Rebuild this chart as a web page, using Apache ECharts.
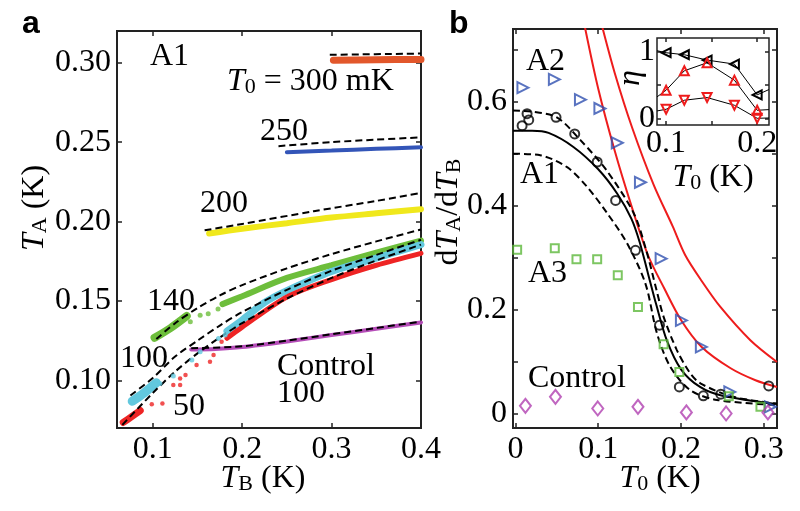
<!DOCTYPE html>
<html>
<head>
<meta charset="utf-8">
<script src="https://cdn.jsdelivr.net/npm/echarts@6/dist/echarts.min.js"></script>
<style>
html,body{margin:0;padding:0;background:#fff;}
#chart{width:800px;height:511px;}
</style>
</head>
<body>
<div id="chart"></div>
<script>
// ---- panel a : T_A against T_B, one band of points per T0 ----
var t300Band = [[0.302,0.3016],[0.35,0.3019],[0.4,0.3021]];
var t300Fit  = [[0.298,0.3050],[0.4,0.3058]];
var t250Band = [[0.25,0.2437],[0.3,0.2447],[0.35,0.2458],[0.4,0.2468]];
var t250Fit  = [[0.2406,0.2475],[0.3,0.2500],[0.35,0.2516],[0.4,0.2530]];
var t200Band = [[0.163,0.1925],[0.2,0.1955],[0.25,0.1990],[0.3,0.2025],[0.35,0.2052],[0.4,0.2078]];
var t200Fit  = [[0.158,0.1945],[0.2,0.1985],[0.28,0.2065],[0.35,0.2130],[0.4,0.2180]];
var t140Clump = [[0.102,0.1268],[0.12,0.1330],[0.138,0.1405]];
var t140Dots  = [[0.142,0.1369],[0.153,0.1410],[0.162,0.1420],[0.173,0.1450]];
var t140Band  = [[0.178,0.1480],[0.2,0.1530],[0.25,0.1645],[0.3,0.1725],[0.35,0.1805],[0.4,0.1880]];
var t140Fit   = [[0.104,0.1260],[0.125,0.1360],[0.15,0.1455],[0.175,0.1535],[0.2,0.1600],[0.25,0.1705],[0.3,0.1795],[0.35,0.1875],[0.4,0.1950]];
var t100Clump = [[0.077,0.0868],[0.09,0.0920],[0.104,0.0985]];
var t100Dots  = [[0.108,0.0981],[0.123,0.1027],[0.1437,0.1128],[0.153,0.1180],[0.1735,0.1264],[0.181,0.1285]];
var t100Band  = [[0.183,0.1310],[0.2,0.1380],[0.225,0.1490],[0.25,0.1565],[0.3,0.1685],[0.35,0.1770],[0.4,0.1855]];
var t100Fit   = [[0.075,0.0905],[0.1,0.1015],[0.125,0.1150],[0.15,0.1250],[0.175,0.1345],[0.2,0.1430],[0.25,0.1570],[0.3,0.1690],[0.35,0.1790],[0.4,0.1885]];
var t50Clump  = [[0.067,0.0735],[0.076,0.0770],[0.086,0.0810]];
var t50Dots   = [[0.0989,0.0850],[0.1108,0.0855],[0.123,0.0970],[0.1306,0.0970],[0.1306,0.1012],[0.1366,0.1033],[0.149,0.1096],[0.164,0.1117],[0.168,0.1160],[0.177,0.1243]];
var t50Band   = [[0.183,0.1265],[0.2,0.1335],[0.25,0.1525],[0.3,0.1635],[0.35,0.1725],[0.4,0.1800]];
var t50Fit    = [[0.066,0.0720],[0.1,0.0920],[0.125,0.1055],[0.15,0.1170],[0.175,0.1270],[0.2,0.1360],[0.25,0.1515],[0.3,0.1645],[0.35,0.1755],[0.4,0.1855]];
var ctrlBand  = [[0.143,0.1195],[0.17,0.1198],[0.2,0.1210],[0.25,0.1245],[0.3,0.1285],[0.35,0.1325],[0.4,0.1365]];
var ctrlFit   = [[0.143,0.1202],[0.2,0.1215],[0.25,0.1250],[0.3,0.1290],[0.35,0.1330],[0.4,0.1370]];
var aXTicks = [0.1,0.2,0.3,0.4];
var aYTicks = [0.10,0.15,0.20,0.25,0.30];

// ---- panel b : dT_A/dT_B against T0 ----
var a2Pts   = [[0.009,0.627],[0.047,0.643],[0.0785,0.604],[0.102,0.587],[0.123,0.521],[0.151,0.445],[0.176,0.298],[0.2005,0.179],[0.2246,0.128],[0.259,0.0415],[0.308,0.0127]];
var a1Pts   = [[0.008,0.554],[0.014,0.577],[0.016,0.565],[0.049,0.570],[0.0716,0.538],[0.0987,0.484],[0.121,0.410],[0.145,0.314],[0.174,0.170],[0.198,0.051],[0.227,0.034],[0.248,0.037],[0.306,0.053]];
var a3Pts   = [[0.002,0.315],[0.0475,0.318],[0.0737,0.297],[0.0987,0.297],[0.1236,0.266],[0.148,0.205],[0.179,0.133],[0.198,0.080],[0.2577,0.033],[0.296,0.013]];
var ctrlPts = [[0.012,0.0146],[0.0483,0.032],[0.0994,0.0096],[0.148,0.0127],[0.2065,0.002],[0.2545,0.0],[0.305,0.002]];
var a1Fit   = [[-0.003,0.544],[0.02,0.544],[0.04,0.540],[0.07,0.513],[0.1,0.470],[0.123,0.423],[0.14,0.375],[0.15,0.330],[0.16,0.270],[0.17,0.210],[0.183,0.140],[0.2,0.085],[0.223,0.051],[0.25,0.034],[0.316,0.018]];
var a1FitHi = [[-0.003,0.583],[0.02,0.581],[0.05,0.570],[0.0785,0.526],[0.11,0.468],[0.143,0.385],[0.158,0.314],[0.17,0.240],[0.179,0.186],[0.195,0.122],[0.21,0.080],[0.2234,0.058],[0.263,0.032],[0.316,0.019]];
var a1FitLo = [[-0.003,0.500],[0.03,0.497],[0.0624,0.474],[0.0866,0.436],[0.111,0.385],[0.135,0.327],[0.157,0.250],[0.171,0.154],[0.187,0.090],[0.211,0.045],[0.2436,0.026],[0.316,0.016]];
var redLeft  = [[0.0837,0.745],[0.1,0.625],[0.12,0.505],[0.14,0.400],[0.16,0.305],[0.18,0.240],[0.2,0.180],[0.225,0.128],[0.26,0.087],[0.29,0.064],[0.316,0.051]];
var redRight = [[0.1047,0.745],[0.12,0.655],[0.141,0.550],[0.167,0.440],[0.19,0.360],[0.205,0.305],[0.225,0.255],[0.2476,0.205],[0.2838,0.141],[0.316,0.099]];
var bXTicks = [0,0.1,0.2,0.3];
var bYTicks = [0,0.1,0.2,0.3,0.4,0.5,0.6,0.7];
var bYLabels = [0,0.2,0.4,0.6];

// ---- inset : eta against T0 ----
var etaT0    = [0.1,0.12,0.145,0.175,0.2];
var etaBlack = [0.98,0.95,0.87,0.81,0.35];
var etaUp    = [0.42,0.71,0.83,0.57,0.12];
var etaDown  = [0.135,0.27,0.31,0.195,0.0];
// where each line leaves the inset frame (left, right)
var edgeBlack = [1.01,0.43];
var edgeUp    = [0.32,0.13];
var edgeDown  = [0.11,0.005];
var inXMin = 0.09, inXMax = 0.213;
var inXTicks = [0.1,0.15,0.2];
var inYTicks = [0,0.5,1];

var SERIF = 'Liberation Serif';
var FS = 32;

function axis(gi, min, max, ticks, labels, fmt, pos, margin) {
  return {
    type: 'value', gridIndex: gi, min: min, max: max, position: pos,
    axisLine: {show: false, onZero: false},
    splitLine: {show: false},
    axisTick: {show: true, inside: true, length: gi === 2 ? 4 : 5, customValues: ticks,
               lineStyle: {color: '#222', width: 1.5}},
    axisLabel: {show: !!labels, customValues: labels || [], formatter: fmt,
                fontFamily: SERIF, fontSize: FS, color: '#000', margin: margin || 6}
  };
}
function band(xi, data, color, w) {
  return {type: 'line', xAxisIndex: xi, yAxisIndex: xi, data: data, symbol: 'none',
          smooth: 0.3, lineStyle: {color: color, width: w, cap: 'round'}, z: 2, silent: true};
}
function fit(xi, data, dashed, color, w) {
  return {type: 'line', xAxisIndex: xi, yAxisIndex: xi, data: data, symbol: 'none',
          smooth: 0.3, clip: true,
          lineStyle: {color: color || '#000', width: w || 2, type: dashed ? [7, 4] : 'solid'},
          z: 4, silent: true};
}
function dots(xi, data, color, size, symbol, rot, hollow) {
  return {type: 'scatter', xAxisIndex: xi, yAxisIndex: xi, data: data,
          symbol: symbol || 'circle', symbolSize: size, symbolRotate: rot || 0,
          itemStyle: hollow ? {color: 'rgba(0,0,0,0)', borderColor: color, borderWidth: 2}
                            : {color: color},
          z: 5, silent: true};
}
function etaSeries(vals, edges, color, rot) {
  var d = [{value: [inXMin, edges[0]], symbol: 'none'}];
  for (var i = 0; i < etaT0.length; i++) d.push([etaT0[i], vals[i]]);
  d.push({value: [inXMax, edges[1]], symbol: 'none'});
  return {type: 'line', xAxisIndex: 2, yAxisIndex: 2, data: d, symbol: 'triangle',
          symbolSize: 9, symbolRotate: rot, showAllSymbol: true,
          lineStyle: {color: '#000', width: 1}, clip: true,
          itemStyle: {color: 'rgba(0,0,0,0)', borderColor: color, borderWidth: 2},
          z: 6, silent: true};
}

var rich = {
  r: {fontFamily: SERIF, fontSize: FS, lineHeight: 36, verticalAlign: 'bottom', fill: '#000', color: '#000'},
  i: {fontFamily: SERIF, fontSize: FS, fontStyle: 'italic', lineHeight: 36, verticalAlign: 'bottom', fill: '#000', color: '#000'},
  s: {fontFamily: SERIF, fontSize: 22, lineHeight: 16, verticalAlign: 'bottom', fill: '#000', color: '#000'}
};
function txt(x, y, text, align, rot) {
  return {type: 'text', x: x, y: y, rotation: rot || 0, silent: true,
          style: {text: text, rich: rich, align: align || 'left', verticalAlign: 'middle',
                  fontFamily: SERIF, fontSize: FS, fill: '#000'}};
}
function bold(x, y, t) {
  return {type: 'text', x: x, y: y, silent: true,
          style: {text: t, fontFamily: 'Liberation Sans', fontWeight: 'bold', fontSize: 32,
                  fill: '#000', align: 'left', verticalAlign: 'middle'}};
}

var chart = echarts.init(document.getElementById('chart'));
var f1 = function (v) { return v === 0 ? '0' : v.toFixed(1); };
var f2 = function (v) { return v.toFixed(2); };

chart.setOption({
  animation: false,
  backgroundColor: '#fff',
  grid: [
    {left: 117, top: 31, width: 304, height: 397, show: true, borderColor: '#222', borderWidth: 2},
    {left: 513, top: 29, width: 264, height: 399, show: true, borderColor: '#222', borderWidth: 2},
    {left: 657, top: 38, width: 112, height: 87, show: true, borderColor: '#222', borderWidth: 1.5,
     backgroundColor: '#fff'}
  ],
  xAxis: [
    axis(0, 0.06, 0.4, aXTicks, aXTicks, function (v) { return v.toFixed(1); }, 'bottom'),
    axis(1, -0.003, 0.316, bXTicks, bXTicks, f1, 'bottom'),
    axis(2, inXMin, inXMax, inXTicks, [0.1,0.2], function (v) { return v.toFixed(1); }, 'bottom', 3),
    axis(0, 0.06, 0.4, aXTicks, null, null, 'top'),
    axis(1, -0.003, 0.316, bXTicks, null, null, 'top'),
    axis(2, inXMin, inXMax, inXTicks, null, null, 'top')
  ],
  yAxis: [
    axis(0, 0.07, 0.32, aYTicks, aYTicks, f2, 'left'),
    axis(1, -0.028, 0.74, bYTicks, bYLabels, f1, 'left'),
    axis(2, -0.1, 1.2, inYTicks, [0,1], function (v) { return String(v); }, 'left', 2),
    axis(0, 0.07, 0.32, aYTicks, null, null, 'right'),
    axis(1, -0.028, 0.74, bYTicks, null, null, 'right'),
    axis(2, -0.1, 1.2, inYTicks, null, null, 'right')
  ],
  series: [
    // panel a
    band(0, t300Band, '#E2572B', 7),
    band(0, t250Band, '#3355B8', 4),
    band(0, t200Band, '#F0E81C', 6),
    band(0, t140Clump, '#6DBE3B', 8),
    band(0, t140Band, '#6DBE3B', 6),
    dots(0, t140Dots, '#6DBE3B', 5),
    band(0, t100Clump, '#62C8DE', 9),
    band(0, t100Band, '#62C8DE', 7),
    dots(0, t100Dots, '#62C8DE', 5),
    band(0, t50Clump, '#EE2424', 7),
    band(0, t50Band, '#EE2424', 5),
    dots(0, t50Dots, '#EE2424', 4.5),
    band(0, ctrlBand, '#B54DB8', 4),
    fit(0, t300Fit, true), fit(0, t250Fit, true), fit(0, t200Fit, true),
    fit(0, t140Fit, true), fit(0, t100Fit, true), fit(0, t50Fit, true), fit(0, ctrlFit, true),
    // panel b
    fit(1, redLeft, false, '#EE1C1C', 2),
    fit(1, redRight, false, '#EE1C1C', 2),
    fit(1, a1Fit, false, '#000', 2),
    fit(1, a1FitHi, true, '#000', 2),
    fit(1, a1FitLo, true, '#000', 2),
    dots(1, a2Pts, '#3050B0', 11, 'triangle', -90, true),
    dots(1, a1Pts, '#000', 9, 'circle', 0, true),
    dots(1, a3Pts, '#5DB83B', 8, 'rect', 0, true),
    dots(1, ctrlPts, '#B040B0', [11, 14], 'diamond', 0, true),
    // inset
    etaSeries(etaBlack, edgeBlack, '#000', 90),
    etaSeries(etaUp, edgeUp, '#EE1C1C', 0),
    etaSeries(etaDown, edgeDown, '#EE1C1C', 180)
  ],
  graphic: [
    bold(22, 24, 'a'),
    bold(449, 24, 'b'),
    // panel a text
    txt(150, 55, '{r|A1}'),
    txt(227, 80, '{i|T}{s|0}{r| = 300 mK}'),
    txt(260, 130, '{r|250}'),
    txt(200, 202, '{r|200}'),
    txt(147, 300, '{r|140}'),
    txt(120, 357, '{r|100}'),
    txt(173, 405, '{r|50}'),
    txt(277, 365, '{r|Control}'),
    txt(277, 392, '{r|100}'),
    txt(33, 208, '{i|T}{s|A}{r| (K)}', 'center', Math.PI / 2),
    txt(263, 477, '{i|T}{s|B}{r| (K)}', 'center'),
    // panel b text
    txt(526, 60, '{r|A2}'),
    txt(520, 173, '{r|A1}'),
    txt(528, 272, '{r|A3}'),
    txt(528, 377, '{r|Control}'),
    txt(447, 212, '{r|d}{i|T}{s|A}{r|/d}{i|T}{s|B}', 'center', Math.PI / 2),
    txt(660, 477, '{i|T}{s|0}{r| (K)}', 'center'),
    txt(629, 78, '{i|η}', 'center', Math.PI / 2),
    txt(713, 176, '{i|T}{s|0}{r| (K)}', 'center')
  ]
});
</script>
</body>
</html>
